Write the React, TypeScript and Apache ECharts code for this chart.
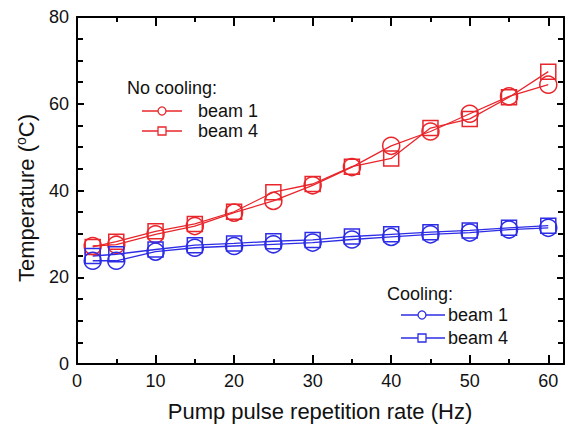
import React, { useEffect, useRef } from "react";
import * as echarts from "echarts";

const rates = [2, 5, 10, 15, 20, 25, 30, 35, 40, 45, 50, 55, 60];
const noCoolBeam1 = [27.2, 27.5, 29.9, 31.8, 34.9, 37.6, 41.2, 45.4, 50.3, 53.6, 57.7, 61.7, 64.4];
const noCoolBeam4 = [27.0, 28.2, 30.6, 32.3, 35.1, 39.6, 41.5, 45.5, 47.4, 54.4, 56.5, 61.5, 67.4];
const coolBeam1 = [23.8, 23.8, 25.9, 26.8, 27.2, 27.6, 28.0, 28.7, 29.3, 29.9, 30.3, 31.0, 31.4];
const coolBeam4 = [24.9, 25.3, 26.4, 27.4, 27.8, 28.3, 28.6, 29.4, 29.9, 30.4, 30.8, 31.4, 31.9];

const xTitle = "Pump pulse repetition rate (Hz)";
const yTitle = "Temperature ({sup|o}C)";

const RED = "#e8262b";
const BLUE = "#2d2de6";
const INK = "#111111";
const FONT = 'Arial, "Liberation Sans", sans-serif';

function pairs(ys: number[]) {
  return rates.map((x, i) => [x, ys[i]]);
}

function xa(position: string) {
  return {
    type: "value",
    min: 0,
    max: 62,
    interval: 10,
    position,
    axisLine: { show: true, onZero: false, lineStyle: { color: "#000000", width: 2 } },
    axisTick: { show: true, inside: true, length: 9, lineStyle: { color: "#000000", width: 2 } },
    minorTick: { show: true, splitNumber: 2, length: 5, lineStyle: { color: "#000000", width: 2 } },
    axisLabel:
      position === "bottom"
        ? { show: true, color: INK, fontSize: 18, fontFamily: FONT, margin: 8, showMaxLabel: false }
        : { show: false },
    splitLine: { show: false },
  };
}

function ya(position: string) {
  return {
    type: "value",
    min: 0,
    max: 80,
    interval: 20,
    position,
    axisLine: { show: true, onZero: false, lineStyle: { color: "#000000", width: 2 } },
    axisTick: { show: true, inside: true, length: 7, lineStyle: { color: "#000000", width: 2 } },
    minorTick: { show: true, splitNumber: 4, length: 6, lineStyle: { color: "#000000", width: 2 } },
    axisLabel:
      position === "left"
        ? { show: true, color: INK, fontSize: 18, fontFamily: FONT, margin: 8 }
        : { show: false },
    splitLine: { show: false },
  };
}

export default function App() {
  const ref = useRef<HTMLDivElement>(null);
  useEffect(() => {
    if (!ref.current) return;
    const chart = echarts.init(ref.current, null, { renderer: "svg" });
    const mkSeries = (name: string, ys: number[], color: string, symbol: string, size: number) => ({
      name,
      type: "line",
      xAxisIndex: 0,
      yAxisIndex: 0,
      data: pairs(ys),
      symbol,
      symbolSize: size,
      showAllSymbol: true,
      lineStyle: { color, width: 1.3 },
      itemStyle: { color: "rgba(255,255,255,0)", borderColor: color, borderWidth: 1.5 },
    });
    const legendText = (x: number, y: number, text: string) => ({
      type: "text",
      x,
      y,
      style: { text, fontSize: 18, fontFamily: FONT, fill: INK, verticalAlign: "middle" },
    });
    chart.setOption({
      animation: false,
      grid: { left: 77, right: 4, top: 17, bottom: 61 },
      xAxis: [xa("bottom"), xa("top")],
      yAxis: [ya("left"), ya("right")],
      series: [
        mkSeries("No cooling beam 1", noCoolBeam1, RED, "circle", 17),
        mkSeries("No cooling beam 4", noCoolBeam4, RED, "rect", 15),
        mkSeries("Cooling beam 1", coolBeam1, BLUE, "circle", 17),
        mkSeries("Cooling beam 4", coolBeam4, BLUE, "rect", 15),
      ],
      graphic: [
        {
          type: "text",
          x: 320,
          y: 411,
          style: { text: xTitle, fontSize: 22, fontFamily: FONT, fill: INK, align: "center", verticalAlign: "middle" },
        },
        {
          type: "text",
          x: 26,
          y: 198,
          rotation: Math.PI / 2,
          style: {
            text: yTitle,
            fontSize: 22,
            fontFamily: FONT,
            fill: INK,
            align: "center",
            verticalAlign: "middle",
            rich: { sup: { fontSize: 14, fontFamily: FONT, fill: INK, padding: [0, 0, 10, 0] } },
          },
        },
        legendText(127, 88, "No cooling:"),
        { type: "line", shape: { x1: 142, y1: 111, x2: 182, y2: 111 }, style: { stroke: RED, lineWidth: 1.5 } },
        { type: "circle", shape: { cx: 162, cy: 111, r: 4 }, style: { stroke: RED, fill: "#fff", lineWidth: 1.3 } },
        legendText(198, 111, "beam 1"),
        { type: "line", shape: { x1: 142, y1: 131, x2: 182, y2: 131 }, style: { stroke: RED, lineWidth: 1.5 } },
        { type: "rect", shape: { x: 158, y: 127, width: 8, height: 8 }, style: { stroke: RED, fill: "#fff", lineWidth: 1.3 } },
        legendText(198, 131, "beam 4"),

        legendText(387, 294, "Cooling:"),
        { type: "line", shape: { x1: 401, y1: 315, x2: 445, y2: 315 }, style: { stroke: BLUE, lineWidth: 1.5 } },
        { type: "circle", shape: { cx: 422, cy: 315, r: 4 }, style: { stroke: BLUE, fill: "#fff", lineWidth: 1.3 } },
        legendText(448, 315, "beam 1"),
        { type: "line", shape: { x1: 401, y1: 338, x2: 445, y2: 338 }, style: { stroke: BLUE, lineWidth: 1.5 } },
        { type: "rect", shape: { x: 418, y: 334, width: 8, height: 8 }, style: { stroke: BLUE, fill: "#fff", lineWidth: 1.3 } },
        legendText(448, 338, "beam 4"),
      ],
    });
    return () => chart.dispose();
  }, []);
  return (
    <div
      ref={ref}
      style={{ position: "fixed", left: 0, top: 0, width: 568, height: 425, background: "#fff" }}
    />
  );
}
